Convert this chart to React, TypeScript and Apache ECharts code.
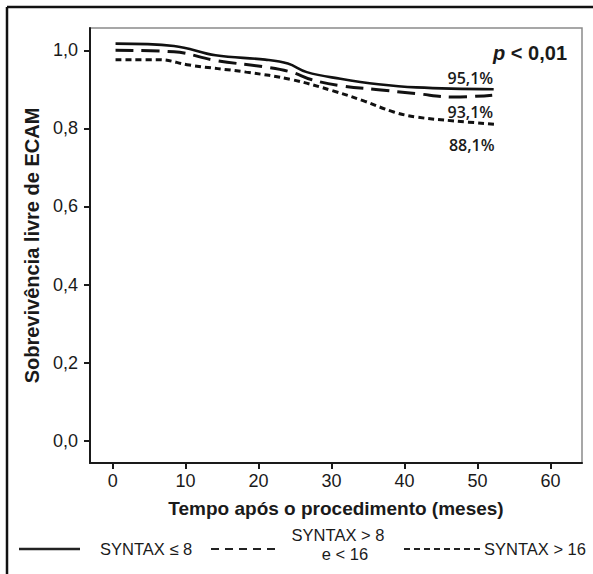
import React, { useEffect, useRef } from "react";
import * as echarts from "echarts";

// ---- data ----
const xTicks = [0, 10, 20, 30, 40, 50, 60];
const yTicks = [0, 0.2, 0.4, 0.6, 0.8, 1.0];

const monthsLow = [0.4, 8.4, 14.1, 20.9, 24.0, 26.6, 31.2, 36.4, 41.6, 52.2];
const survLow = [1.017, 1.011, 0.987, 0.976, 0.966, 0.944, 0.927, 0.913, 0.905, 0.9];

const monthsMid = [0.4, 8.4, 14.1, 20.9, 24.5, 27.2, 31.2, 36.4, 41.6, 46.8, 52.0];
const survMid = [1.0, 0.996, 0.974, 0.957, 0.944, 0.925, 0.909, 0.899, 0.889, 0.88, 0.885];

const monthsHigh = [0.4, 6.3, 10.5, 18.3, 24.5, 30.2, 34.3, 38.5, 41.6, 46.8, 52.8];
const survHigh = [0.976, 0.976, 0.962, 0.944, 0.925, 0.896, 0.871, 0.842, 0.829, 0.819, 0.81];

const endLabels = ["95,1%", "93,1%", "88,1%"];
const endLabelPos: [number, number][] = [
  [49.0, 0.93],
  [49.0, 0.843],
  [49.2, 0.758],
];
const legendNames = ["SYNTAX ≤ 8", "SYNTAX > 8", "e < 16", "SYNTAX > 16"];

const FONT = "'Liberation Sans', Arial, sans-serif";
const INK = "#1a1a1a";

function zip(xs: number[], ys: number[]) {
  return xs.map((x, i) => [x, ys[i]]);
}

export default function App() {
  const ref = useRef<HTMLDivElement>(null);
  useEffect(() => {
    document.body.style.margin = "0";
    const chart = echarts.init(ref.current!, undefined, { renderer: "svg" });
    const fmt = (v: number) => v.toFixed(1).replace(".", ",");
    const lineBase = { type: "line", showSymbol: false, smooth: 0.4, silent: true };
    chart.setOption({
      animation: false,
      backgroundColor: "#fff",
      grid: { left: 90, top: 28, right: 11, bottom: 111, show: true, borderColor: "#8a8a8a", borderWidth: 1.5 },
      xAxis: {
        type: "value",
        min: -3.1,
        max: 64.3,
        splitLine: { show: false },
        axisLine: { show: true, onZero: false, lineStyle: { color: INK, width: 2 } },
        axisTick: { show: true, customValues: xTicks, length: 6, lineStyle: { color: INK, width: 2 } },
        axisLabel: { customValues: xTicks, color: INK, fontSize: 18, fontFamily: FONT, margin: 9 },
        name: "Tempo após o procedimento (meses)",
        nameLocation: "middle",
        nameGap: 36,
        nameTextStyle: { color: INK, fontSize: 19, fontWeight: "bold", fontFamily: FONT },
      },
      yAxis: {
        type: "value",
        min: -0.057,
        max: 1.057,
        splitLine: { show: false },
        axisLine: { show: true, onZero: false, lineStyle: { color: INK, width: 2 } },
        axisTick: { show: true, customValues: yTicks, length: 6, lineStyle: { color: INK, width: 2 } },
        axisLabel: { customValues: yTicks, color: INK, fontSize: 18, fontFamily: FONT, margin: 12, formatter: fmt },
        name: "Sobrevivência livre de ECAM",
        nameLocation: "middle",
        nameGap: 45,
        nameRotate: 90,
        nameTextStyle: { color: INK, fontSize: 20, fontWeight: "bold", fontFamily: FONT },
      },
      series: [
        { ...lineBase, name: legendNames[0], data: zip(monthsLow, survLow), lineStyle: { color: "#111", width: 2.6, type: "solid" } },
        { ...lineBase, name: legendNames[1], data: zip(monthsMid, survMid), lineStyle: { color: "#111", width: 3, type: [18, 8] } },
        { ...lineBase, name: legendNames[3], data: zip(monthsHigh, survHigh), lineStyle: { color: "#111", width: 3, type: [6, 4] } },
      ],
    });

    const labelEls = endLabels.map((t, i) => {
      const p = chart.convertToPixel({ gridIndex: 0 }, endLabelPos[i]) as number[];
      return {
        type: "text",
        x: p[0],
        y: p[1],
        style: { text: t, fill: INK, font: "600 16px 'Open Sans', sans-serif", align: "center", verticalAlign: "middle" },
      };
    });

    const LF = `16.5px ${FONT}`;
    chart.setOption({
      graphic: [
        // outer frame (only top and left edges fall inside the picture)
        { type: "line", shape: { x1: 7, y1: 7, x2: 600, y2: 7 }, style: { stroke: "#111", lineWidth: 2.5 } },
        { type: "line", shape: { x1: 7, y1: 7, x2: 7, y2: 600 }, style: { stroke: "#111", lineWidth: 2.5 } },
        ...labelEls,
        {
          type: "text",
          x: 567,
          y: 53,
          style: {
            text: "{p|p}{r| < 0,01}",
            align: "right",
            verticalAlign: "middle",
            rich: {
              p: { font: "italic bold 20px 'Liberation Sans', Arial, sans-serif", fill: INK },
              r: { font: "bold 20px 'Liberation Sans', Arial, sans-serif", fill: INK },
            },
          },
        },
        // legend
        { type: "line", shape: { x1: 19, y1: 549, x2: 80, y2: 549 }, style: { stroke: "#222", lineWidth: 2.5 } },
        { type: "text", x: 100, y: 549, style: { text: legendNames[0], fill: INK, font: LF, verticalAlign: "middle" } },
        { type: "line", shape: { x1: 211, y1: 549, x2: 277, y2: 549 }, style: { stroke: "#222", lineWidth: 2, lineDash: [8, 6] } },
        { type: "text", x: 338, y: 535, style: { text: legendNames[1], fill: INK, font: LF, align: "center", verticalAlign: "middle" } },
        { type: "text", x: 345, y: 554, style: { text: legendNames[2], fill: INK, font: LF, align: "center", verticalAlign: "middle" } },
        { type: "line", shape: { x1: 404, y1: 549, x2: 481, y2: 549 }, style: { stroke: "#222", lineWidth: 2, lineDash: [6, 4] } },
        { type: "text", x: 484, y: 549, style: { text: legendNames[3], fill: INK, font: LF, verticalAlign: "middle" } },
      ],
    });
    return () => chart.dispose();
  }, []);
  return <div ref={ref} style={{ width: 593, height: 574 }} />;
}
